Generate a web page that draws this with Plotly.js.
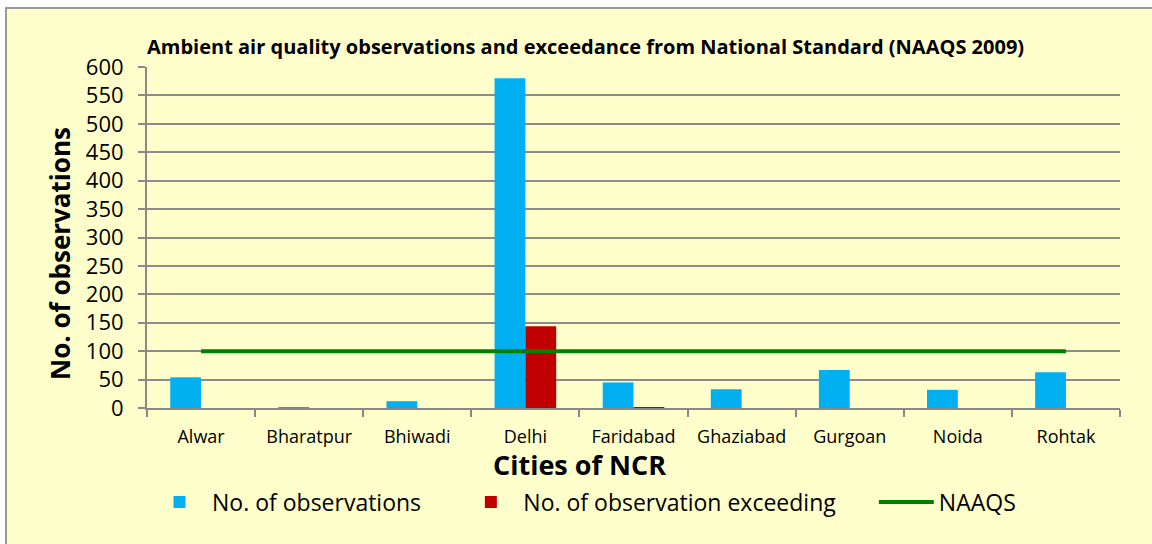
<!DOCTYPE html>
<html>
<head>
<meta charset="utf-8">
<script src="https://cdn.plot.ly/plotly-3.0.1.min.js"></script>
<style>
html,body{margin:0;padding:0;background:#ffffff;width:1152px;height:544px;overflow:hidden;}
#wrap{position:absolute;left:5px;top:7px;width:1147px;height:537px;border-left:2px solid #999;border-top:2px solid #999;background:#FFFFCC;}
#chart{position:absolute;left:0;top:0;width:1145px;height:535px;}
</style>
</head>
<body>
<div id="wrap"><div id="chart"></div></div>
<script>
const cities = ["Alwar","Bharatpur","Bhiwadi","Delhi","Faridabad","Ghaziabad","Gurgoan","Noida","Rohtak"];
const observations = [54, 1, 12, 580, 45, 33, 67, 32, 63];
const exceeding = [0, 0, 0, 144, 1, 0, 0, 0, 0];
const naaqs = [100, 100, 100, 100, 100, 100, 100, 100, 100];
const yTicks = [0,50,100,150,200,250,300,350,400,450,500,550,600];

const font = "'Open Sans', Lato, sans-serif";
const traces = [
  {type:"bar", name:"No. of observations", x:cities, y:observations, marker:{color:"#00B0F0"}, legend:"legend"},
  {type:"bar", name:"No. of observation exceeding", x:cities, y:exceeding, marker:{color:"#C00000"}, legend:"legend2"},
  {type:"scatter", mode:"lines", name:"NAAQS", x:cities, y:naaqs, line:{color:"#008000", width:4}, legend:"legend3"}
];
function leg(x){
  return {orientation:"h", x:x, xanchor:"left", y:-0.276, yanchor:"middle", font:{size:23, family:font, color:"#000"},
          bgcolor:"rgba(0,0,0,0)", itemwidth:55};
}
const layout = {
  width:1145, height:535,
  paper_bgcolor:"#FFFFCC", plot_bgcolor:"#FFFFCC",
  margin:{l:140, r:32, t:58, b:136},
  font:{family:font, color:"#000"},
  barmode:"group", bargap:0.43, bargroupgap:0,
  title:{text:"<b>Ambient air quality observations and exceedance from National Standard (NAAQS 2009)</b>",
         font:{size:20, family:font, color:"#000"}, xref:"paper", x:0, xanchor:"left", yref:"container", y:0.929, yanchor:"middle"},
  xaxis:{tickfont:{size:18, family:font}, ticklabelstandoff:11, showline:true, linecolor:"#888", linewidth:2,
         ticks:"outside", tickson:"boundaries", ticklen:7, tickcolor:"#888", tickwidth:2, showgrid:false},
  yaxis:{range:[0,600], tickvals:yTicks, tickfont:{size:22, family:font}, ticklabelstandoff:10,
         showline:true, linecolor:"#888", linewidth:2, ticks:"outside", ticklen:7, tickcolor:"#888", tickwidth:2,
         showgrid:true, gridcolor:"#8c8c8c", gridwidth:2, zeroline:false},
  annotations:[
    {text:"<b>Cities of NCR</b>", xref:"paper", yref:"paper", x:0.444, y:-0.167, xanchor:"center", yanchor:"middle",
     showarrow:false, font:{size:27, family:font, color:"#000"}},
    {text:"<b>No. of observations</b>", xref:"paper", yref:"paper", x:-0.0894, y:0.452, xanchor:"center", yanchor:"middle",
     textangle:-90, showarrow:false, font:{size:26, family:font, color:"#000"}}
  ],
  showlegend:true,
  legend:leg(0.0),
  legend2:leg(0.320),
  legend3:leg(0.747)
};
Plotly.newPlot("chart", traces, layout, {displayModeBar:false});
</script>
</body>
</html>
